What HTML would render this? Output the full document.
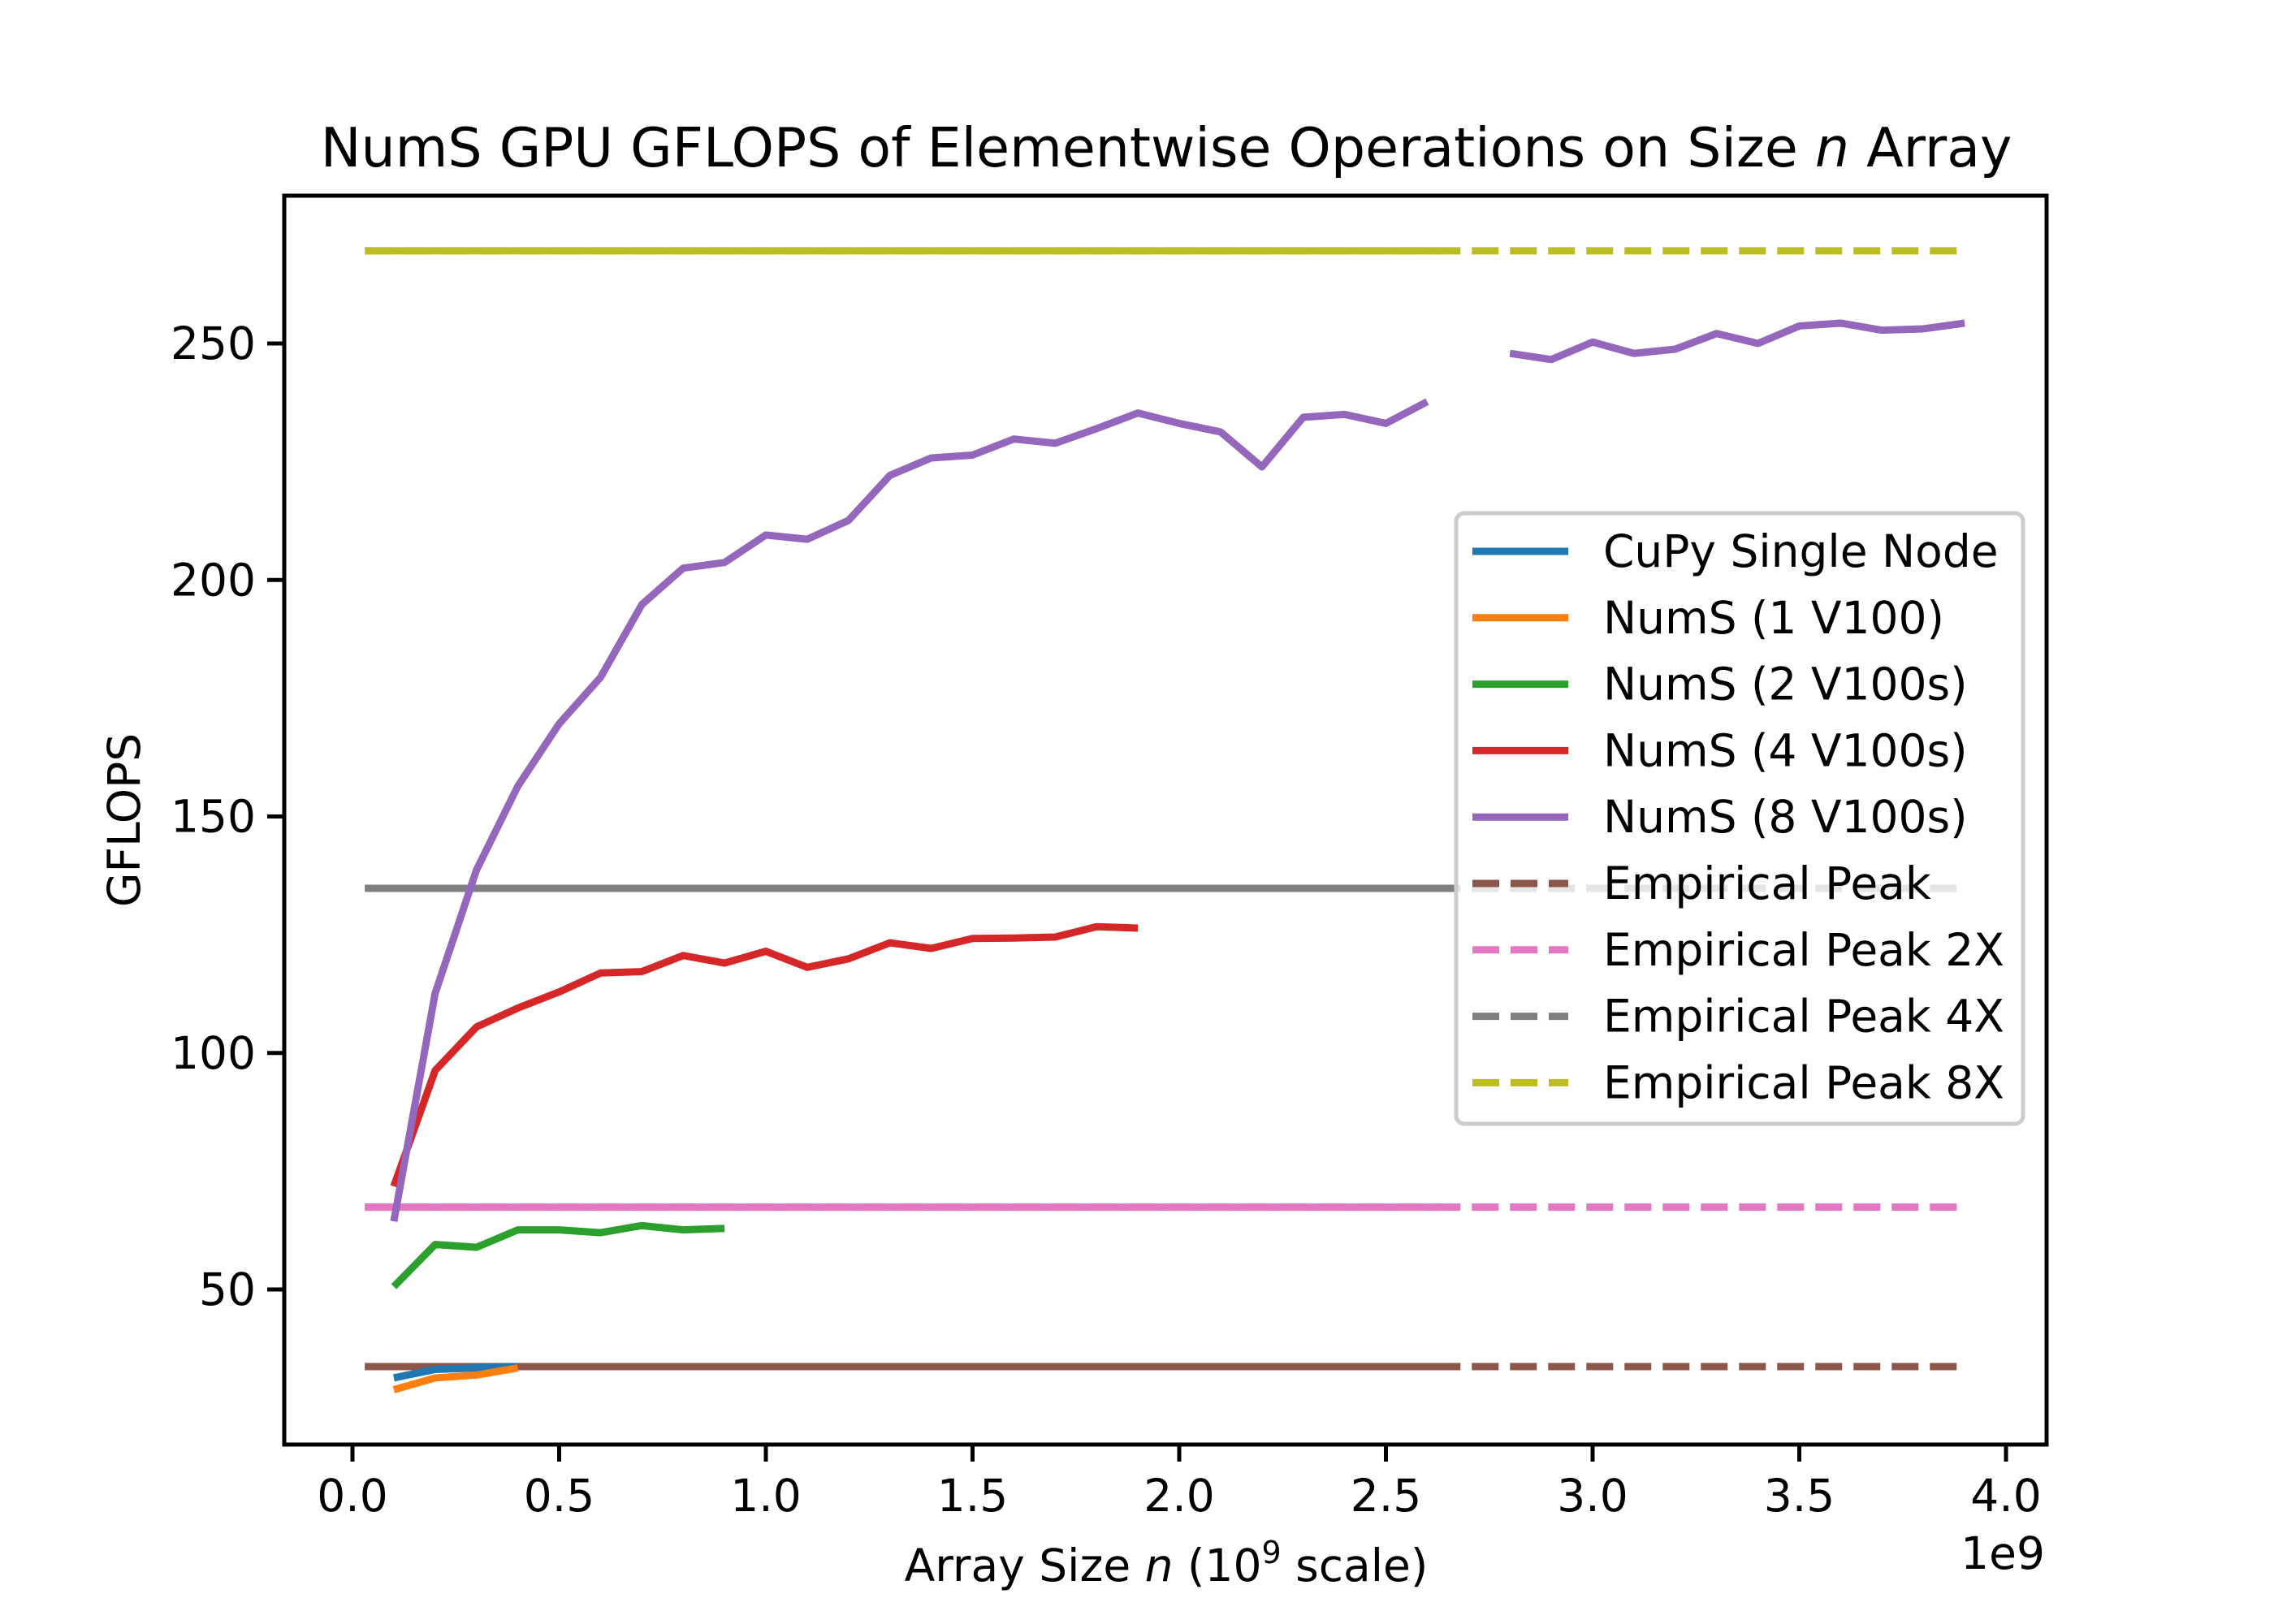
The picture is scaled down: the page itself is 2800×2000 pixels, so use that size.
<!DOCTYPE html>
<html><head><meta charset="utf-8"><style>
html,body{margin:0;padding:0;background:#fff;}
svg{display:block;font-family:"DejaVu Sans","Liberation Sans",sans-serif;}
</style></head><body>
<svg id="chart" width="2800" height="2000" viewBox="0 0 2800 2000" xmlns="http://www.w3.org/2000/svg">
<rect width="2800" height="2000" fill="#fff"/>
<text x="1436" y="205" font-size="66.5" text-anchor="middle">NumS GPU GFLOPS of Elementwise Operations on Size <tspan font-style="italic">n</tspan> Array</text>
<g id="plot"></g>
<g id="axes"></g>
<g id="legend"></g>
<text x="1436" y="1947" font-size="55" text-anchor="middle">Array Size <tspan font-style="italic">n</tspan> (10<tspan font-size="38" dy="-22">9</tspan><tspan dy="22"> scale)</tspan></text>
<text x="2518" y="1932" font-size="55" text-anchor="end">1e9</text>
<text transform="translate(172,1010) rotate(-90)" font-size="55" text-anchor="middle">GFLOPS</text>
</svg>
<script>
const xs1 = [0.1,0.2,0.3,0.4];
const cupy = [31.3,33.1,33.4,33.7];
const nums1 = [28.8,31.3,31.9,33.4];
const xs2 = [0.1,0.2,0.3,0.4,0.5,0.6,0.7,0.8,0.9];
const nums2 = [50.6,59.5,58.9,62.6,62.6,62.0,63.5,62.6,62.9];
const xs4 = [0.1,0.2,0.3,0.4,0.5,0.6,0.7,0.8,0.9,1.0,1.1,1.2,1.3,1.4,1.5,1.6,1.7,1.8,1.9];
const nums4 = [71.8,96.3,105.5,109.5,112.9,116.9,117.2,120.6,119.0,121.5,118.1,119.9,123.3,122.1,124.2,124.3,124.5,126.7,126.4];
const xs8a = [0.1,0.2,0.3,0.4,0.5,0.6,0.7,0.8,0.9,1.0,1.1,1.2,1.3,1.4,1.5,1.6,1.7,1.8,1.9,2.0,2.1,2.2,2.3,2.4,2.5,2.6];
const nums8a = [64.4,112.6,138.7,156.4,169.6,179.4,194.8,202.5,203.7,209.5,208.6,212.6,222.1,225.8,226.4,229.8,228.9,232.0,235.3,233.1,231.3,223.9,234.4,235.0,233.1,237.7];
const xs8b = [2.8,2.9,3.0,3.1,3.2,3.3,3.4,3.5,3.6,3.7,3.8,3.9];
const nums8b = [247.9,246.6,250.3,247.9,248.8,252.1,250.0,253.7,254.3,252.8,253.1,254.3];
const peakNames = ["Empirical Peak","Empirical Peak 2X","Empirical Peak 4X","Empirical Peak 8X"];
const peakValues = [33.7,67.4,134.8,269.6];
const peakRange = [0.03,3.9];
const peakSolidEnd = 2.64;
const xTicks = [0,0.5,1.0,1.5,2.0,2.5,3.0,3.5,4.0];
const xTickLabels = ["0.0","0.5","1.0","1.5","2.0","2.5","3.0","3.5","4.0"];
const yTicks = [50,100,150,200,250];
const yTickLabels = ["50","100","150","200","250"];

const L=350,R=2520,T=241,B=1779;
const X = v => 434 + v*509;
const Y = v => 1588 - (v-50)*5.825;
const NS="http://www.w3.org/2000/svg";
const plot=document.getElementById('plot'), axes=document.getElementById('axes'), leg=document.getElementById('legend');
function mk(tag, attrs, parent){const e=document.createElementNS(NS,tag);for(const k in attrs)e.setAttribute(k,attrs[k]);parent.appendChild(e);return e;}
function line(xs, ys, color, name, dash){
  const p=mk('polyline',{points:xs.map((x,i)=>X(x)+','+Y(ys[i])).join(' '),fill:'none',stroke:color,'stroke-width':9,'stroke-linejoin':'round','stroke-linecap':'butt'},plot);
  if(dash)p.setAttribute('stroke-dasharray',dash);
  
  
}
const peakColors=["#8c564b","#e377c2","#7f7f7f","#bcbd22"];
peakValues.forEach((v,i)=>{
  line(peakRange,[v,v],peakColors[i],'peak-dashed-'+(i+1),'33 14');
  line([peakRange[0],peakSolidEnd],[v,v],peakColors[i],'peak-solid-'+(i+1));
});
line(xs1,cupy,'#1f77b4','cupy-line');
line(xs1,nums1,'#ff7f0e','nums-1-line');
line(xs2,nums2,'#2ca02c','nums-2-line');
line(xs4,nums4,'#d62728','nums-4-line');
line(xs8a,nums8a,'#9467bd','nums-8-line-a');
line(xs8b,nums8b,'#9467bd','nums-8-line-b');

const fr=mk('rect',{x:L,y:T,width:R-L,height:B-T,fill:'none',stroke:'#000','stroke-width':5},axes);


xTicks.forEach((t,i)=>{
  const tk=mk('line',{x1:X(t),x2:X(t),y1:B,y2:B+21,stroke:'#000','stroke-width':5},axes);
  
  
  const tx=mk('text',{x:X(t),y:1861,'font-size':55,'text-anchor':'middle'},axes);
  tx.textContent=xTickLabels[i];
  
  
});
yTicks.forEach((t,i)=>{
  const tk=mk('line',{x1:L-21,x2:L,y1:Y(t),y2:Y(t),stroke:'#000','stroke-width':5},axes);
  
  
  const tx=mk('text',{x:L-35,y:Y(t)+19,'font-size':55,'text-anchor':'end'},axes);
  tx.textContent=yTickLabels[i];
  
  
});

const box=mk('rect',{x:1793,y:632,width:698,height:752,rx:10,fill:'#fff','fill-opacity':0.8,stroke:'#ccc','stroke-width':5},leg);


const legNames=["CuPy Single Node","NumS (1 V100)","NumS (2 V100s)","NumS (4 V100s)","NumS (8 V100s)"].concat(peakNames);
const legColors=["#1f77b4","#ff7f0e","#2ca02c","#d62728","#9467bd"].concat(peakColors);
legNames.forEach((n,i)=>{
  const y=679+i*81.8;
  const ln=mk('line',{x1:1813,x2:1931,y1:y,y2:y,stroke:legColors[i],'stroke-width':9},leg);
  if(i>=5)ln.setAttribute('stroke-dasharray','33 14');
  
  
  const tx=mk('text',{x:1974,y:y+19,'font-size':55},leg);
  tx.textContent=n;
  
  
});
</script>
</body></html>
